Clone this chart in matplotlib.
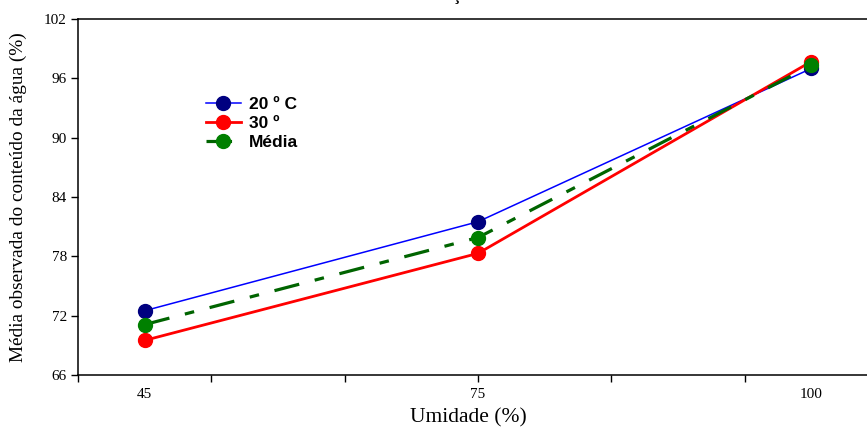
import numpy as np
import matplotlib
matplotlib.use("Agg")
import matplotlib.pyplot as plt

# data
umidade = ["45", "75", "100"]
t20 = [72.5, 81.5, 97.0]
t30 = [69.5, 78.3, 97.7]
media = [71.1, 79.9, 97.3]

serif = "Liberation Serif"
sans = "Liberation Sans"

fig = plt.figure(figsize=(8.67, 4.30), dpi=100)
ax = fig.add_axes([78/867, 55/430, 800/867, 356/430])

x = np.arange(len(umidade))

ax.plot(x, t20, color="#0000ff", lw=1.1, marker="o", ms=10,
        mfc="#000080", mec="#000080", label="20 º C")
ax.plot(x, t30, color="#ff0000", lw=2.0, marker="o", ms=10,
        mfc="#ff0000", mec="#ff0000", label="30 º")
ax.plot(x, media, color="#006400", lw=2.3, dashes=(8, 5, 3, 5), marker="o", ms=10,
        mfc="#008000", mec="#008000", label="Média")

ax.set_xlim(-0.2, 2.2)
ax.set_ylim(66, 102)
ax.set_yticks(np.arange(66, 103, 6))

# sigmaplot style ticks: unlabeled majors, labels at the categories
ax.xaxis.remove_overlapping_locs = False
ax.set_xticks(np.arange(-0.2, 2.01, 0.4))
ax.set_xticklabels([])
ax.set_xticks(x, minor=True)
ax.set_xticklabels(umidade, minor=True)
ax.tick_params(axis="x", which="major", direction="out", length=5, width=1)
ax.tick_params(axis="x", which="minor", length=0, pad=9)
ax.tick_params(axis="y", direction="out", length=5, width=1, pad=3)
for lab in ax.get_xticklabels(minor=True) + ax.get_yticklabels():
    lab.set_fontfamily(serif)
    lab.set_fontsize(11)

ax.spines["right"].set_visible(False)
for s in ["left", "bottom", "top"]:
    ax.spines[s].set_linewidth(1.1)

ax.set_xlabel("Umidade (%)", fontfamily=serif, fontsize=15.5)
ax.xaxis.set_label_coords(0.4875, -0.093)
ax.set_ylabel("Média observada do conteúdo da água (%)", fontfamily=serif, fontsize=13.9)
ax.yaxis.set_label_coords(-0.064, 0.5)

leg = ax.legend(loc="upper left", bbox_to_anchor=(206/867, 1 - 97/430),
                bbox_transform=fig.transFigure, frameon=False, borderpad=0, borderaxespad=0,
                handlelength=2.0, handletextpad=0.45, labelspacing=0.23,
                prop={"family": sans, "weight": "bold", "size": 12.5})

# title sits above the crop, only the cedilla shows
fig.text(443/867, 1 + 0.5/430, "Interação", ha="center", va="baseline",
         fontfamily=serif, fontweight="bold", fontsize=12)

fig.savefig("out.png", dpi=100)
